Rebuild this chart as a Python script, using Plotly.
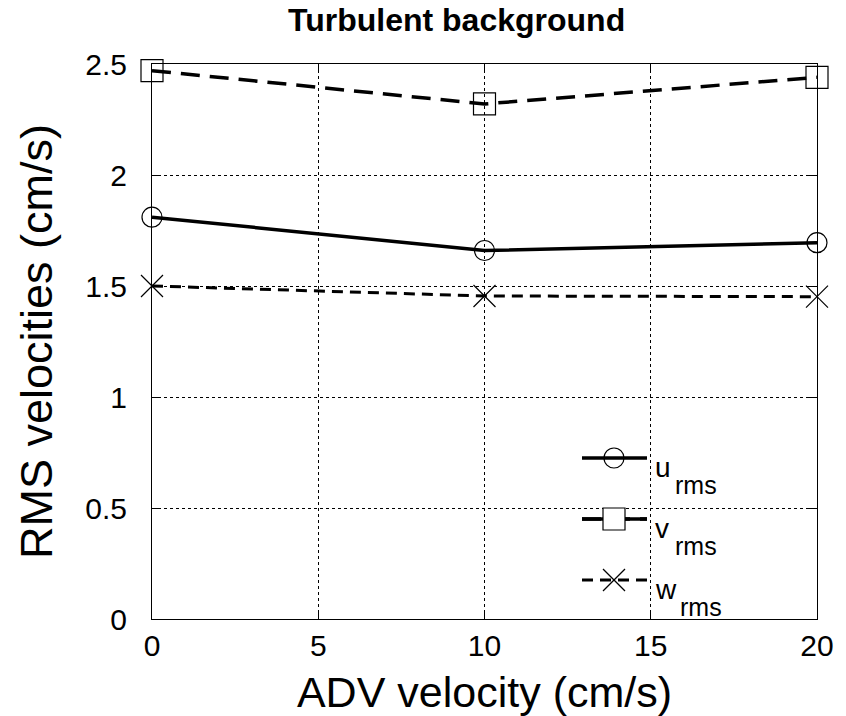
import plotly.graph_objects as go

# Data
adv_velocity = [0, 10, 20]
u_rms = [1.81, 1.66, 1.695]
v_rms = [2.47, 2.32, 2.44]
w_rms = [1.50, 1.455, 1.452]

x_ticks = [0, 5, 10, 15, 20]
y_ticks = [0, 0.5, 1, 1.5, 2, 2.5]

FONT = "Liberation Sans, Arial, sans-serif"

# plot area in px
L, R, T, B = 152, 817, 64, 619
W, H = 846, 716


def px(xp):
    return (xp - L) / (R - L)


def py(yp):
    return (B - yp) / (B - T)


fig = go.Figure()

fig.add_trace(go.Scatter(
    x=adv_velocity, y=u_rms, mode="lines+markers", name="u_rms",
    line=dict(color="black", width=3.5),
    marker=dict(symbol="circle-open", size=20, color="black", line=dict(width=1.2, color="black")),
    cliponaxis=False, showlegend=False))
fig.add_trace(go.Scatter(
    x=adv_velocity, y=v_rms, mode="lines+markers", name="v_rms",
    line=dict(color="black", width=3.5, dash="19px,10px"),
    marker=dict(symbol="square-open", size=22, color="black", line=dict(width=1.2, color="black")),
    cliponaxis=False, showlegend=False))
fig.add_trace(go.Scatter(
    x=adv_velocity, y=w_rms, mode="lines+markers", name="w_rms",
    line=dict(color="black", width=3, dash="11px,7px"),
    marker=dict(symbol="x-thin-open", size=22, color="black", line=dict(width=1.2, color="black")),
    cliponaxis=False, showlegend=False))

shapes = []
annotations = []

# manual legend
legend_rows = [
    ("u", 458, "solid", 3.5, "circle"),
    ("v", 519, "19px,10px", 3.5, "square"),
    ("w", 580, "11px,7px", 3, "x"),
]
for label, yrow, dash, lw, sym in legend_rows:
    shapes.append(dict(type="line", xref="paper", yref="paper",
                       x0=px(582), x1=px(647), y0=py(yrow), y1=py(yrow),
                       line=dict(color="black", width=lw, dash=dash)))
    xa, ya = px(614), py(yrow)
    if sym == "circle":
        shapes.append(dict(type="circle", xref="paper", yref="paper",
                           xsizemode="pixel", ysizemode="pixel", xanchor=xa, yanchor=ya,
                           x0=-10, x1=10, y0=-10, y1=10,
                           line=dict(color="black", width=1.2)))
    elif sym == "square":
        shapes.append(dict(type="rect", xref="paper", yref="paper",
                           xsizemode="pixel", ysizemode="pixel", xanchor=xa, yanchor=ya,
                           x0=-11, x1=11, y0=-11, y1=11,
                           fillcolor="white",
                           line=dict(color="black", width=1.2)))
        shapes.append(dict(type="line", xref="paper", yref="paper",
                           x0=px(582), x1=px(603), y0=py(yrow), y1=py(yrow),
                           line=dict(color="black", width=lw)))
        shapes.append(dict(type="line", xref="paper", yref="paper",
                           x0=px(625), x1=px(647), y0=py(yrow), y1=py(yrow),
                           line=dict(color="black", width=lw)))
    else:
        for s in (1, -1):
            shapes.append(dict(type="line", xref="paper", yref="paper",
                               xsizemode="pixel", ysizemode="pixel", xanchor=xa, yanchor=ya,
                               x0=-11, x1=11, y0=-11 * s, y1=11 * s,
                               line=dict(color="black", width=1.2)))
    annotations.append(dict(text=label, xref="paper", yref="paper",
                            x=px(653), y=py(yrow - 8), xanchor="left", yanchor="top",
                            showarrow=False, font=dict(family=FONT, size=28, color="black")))
    annotations.append(dict(text="rms", xref="paper", yref="paper",
                            x=px(673 if label != "w" else 678), y=py(yrow + 11), xanchor="left", yanchor="top",
                            showarrow=False, font=dict(family=FONT, size=25, color="black")))

# title
annotations.append(dict(text="<b>Turbulent background</b>", xref="paper", yref="paper",
                        x=px(456), y=py(20), xanchor="center", yanchor="middle",
                        showarrow=False, font=dict(family=FONT, size=32, color="black")))

fig.update_layout(
    width=W, height=H,
    margin=dict(l=L, r=W - R, t=T, b=H - B, pad=0, autoexpand=False),
    paper_bgcolor="white", plot_bgcolor="white",
    font=dict(family=FONT, color="black"),
    shapes=shapes, annotations=annotations,
    showlegend=False,
)

fig.update_xaxes(
    range=[0, 20], tickvals=x_ticks, ticktext=[str(v) for v in x_ticks],
    showline=True, linecolor="black", linewidth=1, mirror="ticks",
    ticks="inside", ticklen=8, tickcolor="black",
    showgrid=True, gridcolor="black", gridwidth=1, griddash="dot",
    zeroline=False, automargin=False,
    tickfont=dict(family=FONT, size=30, color="black"),
    ticklabelstandoff=0,
    title=dict(text="ADV velocity (cm/s)", font=dict(family=FONT, size=43, color="black"), standoff=16),
)
fig.update_yaxes(
    range=[0, 2.5], tickvals=y_ticks, ticktext=["0", "0.5", "1", "1.5", "2", "2.5"],
    showline=True, linecolor="black", linewidth=1, mirror="ticks",
    ticks="inside", ticklen=8, tickcolor="black",
    showgrid=True, gridcolor="black", gridwidth=1, griddash="dot",
    zeroline=False, automargin=False,
    tickfont=dict(family=FONT, size=30, color="black"),
    ticklabelstandoff=18,
    title=dict(text="RMS velocities (cm/s)", font=dict(family=FONT, size=45, color="black"), standoff=18),
)

fig.write_html(
    "out.html",
    config={"displayModeBar": False},
    post_script="document.body.style.margin='0px';document.documentElement.style.overflow='hidden';",
)
